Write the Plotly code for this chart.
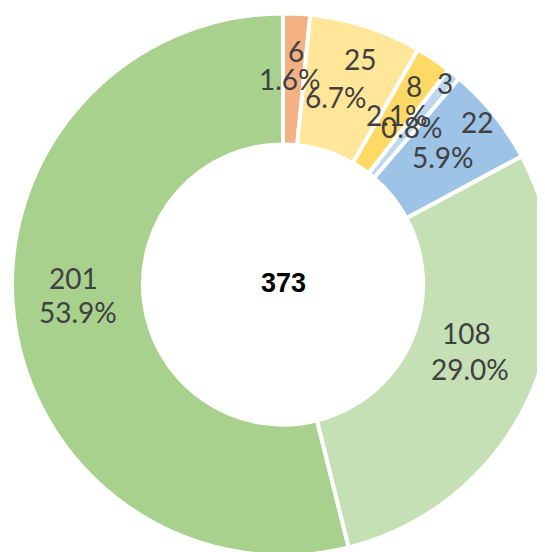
import math
import plotly.graph_objects as go

values = [6, 25, 8, 3, 22, 108, 201]
colors = ["#F4B183", "#FFE699", "#FFD966", "#BDD7EE", "#9DC3E6", "#C5E0B4", "#A9D18E"]
center_label = "373"

# label nudges in pixels (dx right, dy down) relative to mid-ring point
pct_nudge = [(-3, 0), (-10, 8), (0, 1), (-1, 2), (0, 1), (-1, 1), (-1, 2)]
val_nudge = [(3, -28), (14, -30), (17, -28), (32, -42), (34, -34), (-4, -35), (-5, -32)]

W, H = 546, 548
cx, cy, R = 275.0, 276.5, 271.0
hole = 0.517

dom_x = [max(0.0, (cx - R) / W), min(1.0, (cx + R) / W)]
dom_y = [max(0.0, 1 - (cy + R) / H), min(1.0, 1 - (cy - R) / H)]

fig = go.Figure(go.Pie(
    values=values,
    marker=dict(colors=colors, line=dict(color="white", width=4)),
    hole=hole,
    sort=False,
    direction="clockwise",
    rotation=0,
    textinfo="none",
    hoverinfo="skip",
    showlegend=False,
    domain=dict(x=dom_x, y=dom_y),
))

total = sum(values)
r_mid = R * (1 + hole) / 2
cum = 0
annotations = []
lbl_font = dict(family="Lato, Liberation Sans, sans-serif", size=28, color="#404040")
for v, pn, vn in zip(values, pct_nudge, val_nudge):
    ang = 2 * math.pi * (cum + v / 2) / total
    cum += v
    px = cx + r_mid * math.sin(ang)
    py = cy - r_mid * math.cos(ang)
    annotations.append(dict(
        x=px / W, y=1 - py / H, xref="paper", yref="paper",
        text=f"{v / total * 100:.1f}%", showarrow=False, font=lbl_font,
        xanchor="center", yanchor="middle", xshift=pn[0], yshift=-pn[1],
    ))
    annotations.append(dict(
        x=px / W, y=1 - py / H, xref="paper", yref="paper",
        text=f"{v}", showarrow=False, font=lbl_font,
        xanchor="center", yanchor="middle", xshift=vn[0], yshift=-vn[1],
    ))
annotations.append(dict(
    x=cx / W, y=1 - (cy - 2) / H, xref="paper", yref="paper",
    text=f"<b>{center_label}</b>", showarrow=False,
    font=dict(family="Liberation Sans, sans-serif", size=27, color="#000000"),
    xanchor="center", yanchor="middle",
))

fig.update_layout(
    width=W, height=H,
    margin=dict(l=0, r=0, t=0, b=0),
    paper_bgcolor="white", plot_bgcolor="white",
    annotations=annotations,
)
fig.write_html("out.html")
